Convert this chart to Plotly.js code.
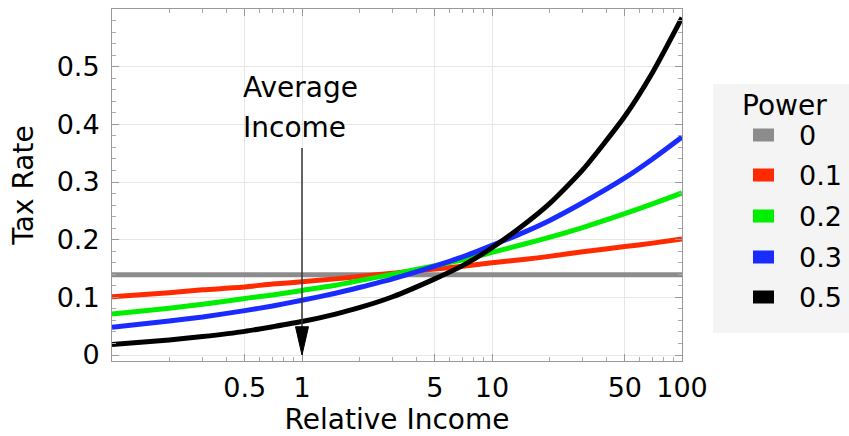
<!DOCTYPE html>
<html>
<head>
<meta charset="utf-8">
<script src="https://cdn.plot.ly/plotly-3.0.1.min.js"></script>
<style>html,body{margin:0;padding:0;background:#fff;}#chart{width:849px;height:436px;}</style>
</head>
<body>
<div id="chart"></div>
<script>
// Data
const income = [0.1, 0.2, 0.3, 0.5, 0.7, 1, 1.5, 2, 3, 5, 7, 10, 15, 20, 30, 50, 70, 100];
const power0  = [0.139, 0.139, 0.139, 0.139, 0.139, 0.139, 0.139, 0.139, 0.139, 0.139, 0.139, 0.139, 0.139, 0.139, 0.139, 0.139, 0.139, 0.139];
const power01 = [0.101, 0.108, 0.113, 0.118, 0.123, 0.127, 0.132, 0.136, 0.142, 0.149, 0.154, 0.160, 0.166, 0.171, 0.179, 0.188, 0.194, 0.201];
const power02 = [0.071, 0.081, 0.088, 0.098, 0.104, 0.112, 0.121, 0.129, 0.140, 0.155, 0.165, 0.178, 0.193, 0.204, 0.221, 0.245, 0.262, 0.281];
const power03 = [0.048, 0.059, 0.066, 0.077, 0.085, 0.095, 0.107, 0.117, 0.132, 0.154, 0.170, 0.190, 0.214, 0.233, 0.264, 0.307, 0.340, 0.378];
const power05 = [0.018, 0.026, 0.032, 0.041, 0.049, 0.058, 0.071, 0.082, 0.101, 0.132, 0.155, 0.186, 0.228, 0.262, 0.321, 0.414, 0.490, 0.585];

const seriesNames = ["0", "0.1", "0.2", "0.3", "0.5"];
const seriesValues = [power0, power01, power02, power03, power05];
const seriesColors = ["#8c8c8c", "#ff2a00", "#00ee00", "#1a2bff", "#000000"];

const xTickVals = [0.5, 1, 5, 10, 50, 100];
const xTickText = ["0.5", "1", "5", "10", "50", "100"];
const xMinorVals = [0.2, 0.3, 0.4, 0.6, 0.7, 0.8, 0.9, 2, 3, 4, 6, 7, 8, 9, 20, 30, 40, 60, 70, 80, 90];
const yTickVals = [0, 0.1, 0.2, 0.3, 0.4, 0.5];
const yTickText = ["0", "0.1", "0.2", "0.3", "0.4", "0.5"];
const legendTitle = "Power";
const noteLines = ["Average", "Income"];
const averageIncome = 1;

const FONT = "DejaVu Sans, Verdana, sans-serif";

const traces = seriesValues.map((vals, i) => ({
  type: "scatter",
  mode: "lines",
  x: income,
  y: vals,
  name: seriesNames[i],
  line: {color: seriesColors[i], width: 5, shape: "spline", smoothing: 0.6},
  showlegend: false,
  hoverinfo: "skip"
}));

// plot geometry (pixels) for converting legend positions to paper coords
const L = 112, R = 682, T = 9, B = 361;
const px = v => (v - L) / (R - L);
const py = v => (B - v) / (B - T);

const shapes = [];
const annotations = [];

// legend box
shapes.push({type: "rect", xref: "paper", yref: "paper",
  x0: px(713), x1: px(860), y0: py(333), y1: py(84),
  fillcolor: "#f4f4f4", line: {width: 0}, layer: "below"});
annotations.push({xref: "paper", yref: "paper", x: px(785), y: py(105),
  text: legendTitle, showarrow: false, xanchor: "center", yanchor: "middle",
  font: {family: FONT, size: 28, color: "#000"}});
const entryY = [135, 175, 216, 257, 297];
seriesNames.forEach((nm, i) => {
  shapes.push({type: "rect", xref: "paper", yref: "paper",
    x0: px(753), x1: px(774), y0: py(entryY[i] + 6.5), y1: py(entryY[i] - 6.5),
    fillcolor: seriesColors[i], line: {width: 0}});
  annotations.push({xref: "paper", yref: "paper", x: px(797), y: py(entryY[i]),
    text: nm, showarrow: false, xanchor: "left", yanchor: "middle",
    font: {family: FONT, size: 27, color: "#000"}});
});

// average-income arrow
const ax = (Math.log10(averageIncome) + 1) / 3;
shapes.push({type: "line", xref: "paper", yref: "y",
  x0: ax, x1: ax, y0: 0.359, y1: 0.045, line: {color: "#333", width: 1.5}});
shapes.push({type: "path", xref: "paper", yref: "y",
  path: `M ${ax - 0.0114},0.049 L ${ax + 0.0114},0.049 L ${ax},0.0 Z`,
  fillcolor: "#000", line: {color: "#000", width: 1}});
annotations.push({xref: "paper", yref: "y", x: px(241), y: 0.4635,
  text: noteLines[0], showarrow: false, xanchor: "left", yanchor: "middle",
  font: {family: FONT, size: 28, color: "#000"}});
annotations.push({xref: "paper", yref: "y", x: px(241), y: 0.394,
  text: noteLines[1], showarrow: false, xanchor: "left", yanchor: "middle",
  font: {family: FONT, size: 28, color: "#000"}});

const layout = {
  width: 849, height: 436,
  margin: {l: L, r: 849 - R, t: T, b: 436 - B, pad: 0},
  paper_bgcolor: "#ffffff", plot_bgcolor: "#ffffff",
  font: {family: FONT, color: "#000"},
  xaxis: {
    type: "log", range: [-1, 2],
    tickmode: "array", tickvals: xTickVals, ticktext: xTickText,
    ticks: "inside", ticklen: 7, tickwidth: 1, tickcolor: "#999",
    showline: true, linecolor: "#999", linewidth: 1, mirror: "allticks",
    showgrid: true, gridcolor: "#e6e6e6", gridwidth: 1, zeroline: false,
    tickfont: {family: FONT, size: 27, color: "#000"},
    ticklabelstandoff: 3,
    minor: {tickmode: "array", tickvals: xMinorVals, ticks: "inside", ticklen: 4, tickcolor: "#aaa", showgrid: false},
    title: {text: "Relative Income", font: {family: FONT, size: 28, color: "#000"}, standoff: 7}
  },
  yaxis: {
    range: [-0.0104, 0.6],
    tickmode: "array", tickvals: yTickVals, ticktext: yTickText,
    ticks: "inside", ticklen: 7, tickwidth: 1, tickcolor: "#999",
    showline: true, linecolor: "#999", linewidth: 1, mirror: "allticks",
    showgrid: true, gridcolor: "#e6e6e6", gridwidth: 1, zeroline: false,
    tickfont: {family: FONT, size: 27, color: "#000"},
    ticklabelstandoff: 6,
    minor: {dtick: 0.02, ticks: "inside", ticklen: 4, tickcolor: "#aaa", showgrid: false},
    title: {text: "Tax Rate", font: {family: FONT, size: 28, color: "#000"}, standoff: 14}
  },
  shapes: shapes,
  annotations: annotations,
  showlegend: false
};

Plotly.newPlot("chart", traces, layout, {displayModeBar: false, staticPlot: true});
</script>
</body>
</html>
